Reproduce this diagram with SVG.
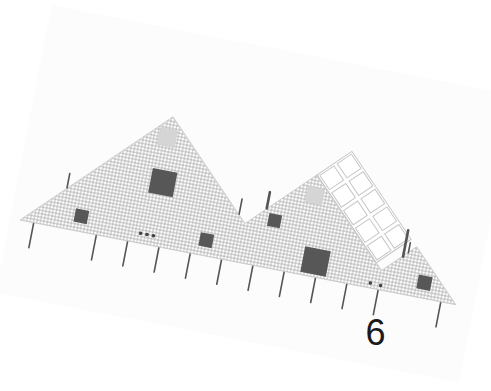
<svg xmlns="http://www.w3.org/2000/svg" width="491" height="391" viewBox="0 0 491 391">
<defs>
<pattern id="mesh" patternUnits="userSpaceOnUse" width="3.4" height="3.4">
<rect width="3.4" height="3.4" fill="#c2c2c2"/>
<circle cx="1.7" cy="1.7" r="1.35" fill="#ffffff"/>
</pattern>
<pattern id="fine" patternUnits="userSpaceOnUse" width="2" height="2">
<rect width="2" height="2" fill="#cbcbcb"/>
<circle cx="1" cy="1" r="0.7" fill="#e8e8e8"/>
</pattern>
<style>
.tick{stroke:#555;stroke-width:1.6;stroke-linecap:round;fill:none}
.thick{stroke:#555;stroke-width:2.6;stroke-linecap:round;fill:none}
.dark{fill:#575757}
.light{fill:url(#fine);stroke:#cfcfcf;stroke-width:0.8}
.cell{fill:#ffffff;stroke:#c6c6c6;stroke-width:1}
.dot{fill:#444}
</style>
</defs>
<rect width="491" height="391" fill="#ffffff"/>
<g transform="translate(20,220) rotate(11)">
<rect id="page" x="-10" y="-217" width="472" height="293" fill="#fcfcfc"/>
<g id="ticks-below">
<line class="tick" x1="14" y1="0" x2="14" y2="25.5"/>
<line class="tick" x1="77.8" y1="0" x2="77.8" y2="25.5"/>
<line class="tick" x1="109.7" y1="0" x2="109.7" y2="25.5"/>
<line class="tick" x1="141.6" y1="0" x2="141.6" y2="25.5"/>
<line class="tick" x1="173.5" y1="0" x2="173.5" y2="25.5"/>
<line class="tick" x1="205.4" y1="0" x2="205.4" y2="25.5"/>
<line class="tick" x1="237.3" y1="0" x2="237.3" y2="25.5"/>
<line class="tick" x1="269.2" y1="0" x2="269.2" y2="25.5"/>
<line class="tick" x1="301.1" y1="0" x2="301.1" y2="25.5"/>
<line class="tick" x1="333" y1="0" x2="333" y2="25.5"/>
<line class="tick" x1="364.9" y1="0" x2="364.9" y2="25.5"/>
<line class="tick" x1="428.7" y1="0" x2="428.7" y2="25.5"/>
</g>
<path id="mesh-area" d="M0,0 L130.5,-130.5 L221.5,-39.5 L283,-101 L364.5,-19.5 L394.5,-49.5 L444,0 Z" fill="url(#mesh)" stroke="#c8c8c8" stroke-width="0.8" stroke-linejoin="round"/>
<g id="grid" transform="translate(283,-101) rotate(45)">
<rect x="0" y="-42" width="106" height="42" fill="#ffffff" stroke="#c6c6c6" stroke-width="1"/>
<rect class="cell" x="2" y="-40" width="17.2" height="17"/>
<rect class="cell" x="23.2" y="-40" width="17.2" height="17"/>
<rect class="cell" x="44.4" y="-40" width="17.2" height="17"/>
<rect class="cell" x="65.6" y="-40" width="17.2" height="17"/>
<rect class="cell" x="86.8" y="-40" width="17.2" height="17"/>
<rect class="cell" x="2" y="-19" width="17.2" height="17"/>
<rect class="cell" x="23.2" y="-19" width="17.2" height="17"/>
<rect class="cell" x="44.4" y="-19" width="17.2" height="17"/>
<rect class="cell" x="65.6" y="-19" width="17.2" height="17"/>
<rect class="cell" x="86.8" y="-19" width="17.2" height="17"/>
</g>
<g id="ticks-above">
<line class="tick" x1="40" y1="-55" x2="40" y2="-40.5"/>
<line class="tick" x1="214" y1="-63" x2="214" y2="-47.5"/>
<line class="thick" x1="240" y1="-75" x2="240" y2="-58.5"/>
<line class="thick" x1="383" y1="-64" x2="383" y2="-37"/>
<line class="tick" x1="387.5" y1="-52" x2="387.5" y2="-42"/>
</g>
<g id="squares">
<rect id="sq-big-1" class="dark" x="120.5" y="-76.5" width="25" height="25"/>
<rect id="sq-light-1" class="light" x="120.5" y="-117.5" width="17" height="17"/>
<rect id="sq-small-1" class="dark" x="52.75" y="-22.15" width="13.5" height="13.5"/>
<rect id="sq-small-2" class="dark" x="179.95" y="-22.45" width="13.5" height="13.5"/>
<rect id="sq-small-3" class="dark" x="243.5" y="-54.5" width="13" height="13"/>
<rect id="sq-light-2" class="light" x="277" y="-88" width="16" height="16"/>
<rect id="sq-big-2" class="dark" x="285" y="-28.7" width="26" height="26"/>
<rect id="sq-small-4" class="dark" x="402" y="-22.5" width="14" height="14"/>
</g>
<g id="dots">
<circle class="dot" cx="121" cy="-10" r="1.8"/>
<circle class="dot" cx="127.5" cy="-10" r="1.8"/>
<circle class="dot" cx="134" cy="-10" r="1.8"/>
<circle class="dot" cx="356" cy="-5" r="1.8"/>
<circle class="dot" cx="366.5" cy="-4.5" r="1.8"/>
</g>
</g>
<text id="label-6" x="375.5" y="345" font-family="Liberation Sans, Arial, sans-serif" font-size="36" text-anchor="middle" fill="#1a1a1a">6</text>
</svg>
